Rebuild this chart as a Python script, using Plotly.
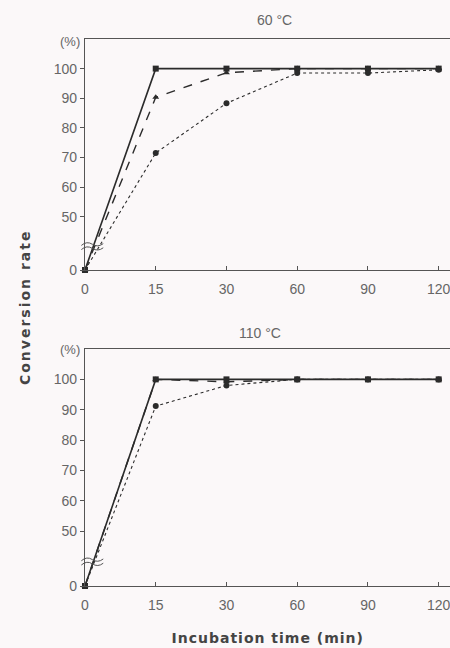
import plotly.graph_objects as go

# ---- data ----
times = ["0", "15", "30", "60", "90", "120"]          # incubation time (min), evenly spaced categories
panel_titles = ["60 °C", "110 °C"]

# 60 °C panel
s60_square = [0, 100, 100, 100, 100, 100]
s60_triangle = [0, 90.3, 98.6, 100, 100, 100]
s60_circle = [0, 71.5, 88.3, 98.5, 98.5, 99.6]

# 110 °C panel
s110_square = [0, 100, 100, 100, 100, 100]
s110_triangle = [0, 100, 99.2, 100, 100, 100]
s110_circle = [0, 91.2, 98.0, 100, 100, 100]

y_tickvals = [0, 50, 60, 70, 80, 90, 100]

# ---- broken-axis mapping: values >= 40 linear, 0..40 squeezed ----
BREAK = 40.0
LOW = 32.0


def brk(v):
    return v if v >= BREAK else LOW + v * (BREAK - LOW) / BREAK


BG = "#fbf8f9"
INK = "#2b2b2b"
TXT = "#666666"
FONT = "Liberation Sans, Arial, sans-serif"

fig = go.Figure()

panels = [
    ("x", "y", [s60_square, s60_triangle, s60_circle]),
    ("x2", "y2", [s110_square, s110_triangle, s110_circle]),
]
styles = [
    dict(dash="solid", width=1.6, symbol="square", size=6),
    dict(dash="dash", width=1.4, symbol="triangle-up", size=6),
    dict(dash="dot", width=1.1, symbol="circle", size=6),
]

for xa, ya, series in panels:
    for vals, st in zip(series, styles):
        fig.add_trace(go.Scatter(
            x=times, y=[brk(v) for v in vals], xaxis=xa, yaxis=ya,
            mode="lines+markers",
            line=dict(color=INK, dash=st["dash"], width=st["width"]),
            marker=dict(symbol=st["symbol"], size=st["size"], color=INK),
            cliponaxis=False, showlegend=False,
        ))

xcommon = dict(
    type="category", range=[0, 5.16], showline=True, linecolor="#555", linewidth=1.2,
    mirror=True, ticks="inside", ticklen=4, tickcolor="#555", showgrid=False,
    zeroline=False, tickfont=dict(family=FONT, size=14, color=TXT),
    ticklabelstandoff=6,
)
ycommon = dict(
    range=[LOW, 110], showline=True, linecolor="#555", linewidth=1.2,
    ticks="outside", ticklen=4, tickcolor="#555", showgrid=False, zeroline=False,
    tickvals=[brk(v) for v in y_tickvals], ticktext=[str(v) for v in y_tickvals],
    tickfont=dict(family=FONT, size=14, color=TXT),
)

top_dom = [(586 - 270) / 547, 1.0]
bot_dom = [0.0, (586 - 349) / 547]

fig.update_layout(
    width=450, height=648,
    margin=dict(l=85, r=0, t=39, b=62),
    paper_bgcolor=BG, plot_bgcolor=BG,
    xaxis=dict(xcommon, domain=[0, 1], anchor="y"),
    yaxis=dict(ycommon, domain=top_dom, anchor="x"),
    xaxis2=dict(xcommon, domain=[0, 1], anchor="y2"),
    yaxis2=dict(ycommon, domain=bot_dom, anchor="x2"),
)

# panel titles and (%) labels
for i, (title, dom) in enumerate(zip(panel_titles, [top_dom, bot_dom])):
    fig.add_annotation(text=title, xref="paper", yref="paper", x=0.52 if i == 0 else 0.48,
                       y=dom[1], yanchor="middle", yshift=19 if i == 0 else 16,
                       showarrow=False, font=dict(family=FONT, size=14, color=TXT))
    fig.add_annotation(text="(%)", xref="paper", yref="paper", x=0, y=dom[1],
                       xanchor="right", xshift=-3, yanchor="middle",
                       yshift=-2 if i == 0 else -1, showarrow=False,
                       font=dict(family=FONT, size=13, color=TXT))

# axis-break marks on each y axis
for ya in ["y", "y2"]:
    for dy in (-0.7, 0.7):
        y0 = BREAK + dy
        fig.add_shape(type="path", xref="paper", yref=ya,
                      path=(f"M -0.01,{y0 - 0.4} Q 0.005,{y0 + 1.2} 0.02,{y0} "
                            f"T 0.05,{y0 + 0.2}"),
                      line=dict(color="#555", width=1))

# axis titles
fig.add_annotation(text="Conversion rate", xref="paper", yref="paper", x=0,
                   xanchor="center", xshift=-60, y=0.51, yanchor="middle",
                   textangle=-90, showarrow=False,
                   font=dict(family="DejaVu Sans", size=14, color="#444", weight="bold"))
fig.add_annotation(text="Incubation time (min)", xref="paper", yref="paper", x=0.5,
                   y=0, yanchor="middle", yshift=-52, showarrow=False,
                   font=dict(family="DejaVu Sans", size=14, color="#444", weight="bold"))

post = """
document.body.style.margin = '0px';
document.querySelectorAll('.annotation-text').forEach(function (t) {
  if (t.textContent.indexOf('Conversion') === 0) { t.style.letterSpacing = '2px'; }
  if (t.textContent.indexOf('Incubation') === 0) { t.style.letterSpacing = '1px'; }
});
"""

fig.write_html("out.html", post_script=post, config={"displayModeBar": False})
